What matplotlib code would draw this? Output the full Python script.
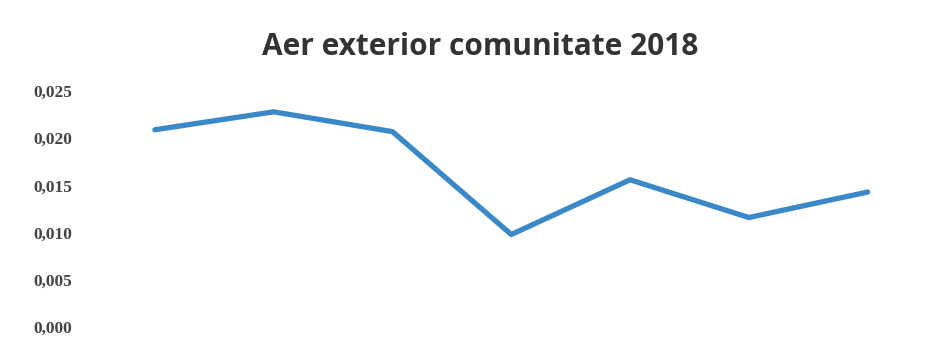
import matplotlib
matplotlib.use("Agg")
import matplotlib.pyplot as plt
from matplotlib.ticker import FuncFormatter

# Measured concentrations for each sampling point
categories = ["P1", "P2", "P3", "P4", "P5", "P6", "P7"]
values = [0.0209, 0.0228, 0.0207, 0.0098, 0.0156, 0.0116, 0.0143]
y_ticks = [0.000, 0.005, 0.010, 0.015, 0.020, 0.025]
title = "Aer exterior comunitate 2018"

fig = plt.figure(figsize=(9.45, 3.47), dpi=100)
ax = fig.add_axes([0.101, 0.0576, 0.880, 0.680])

x = list(range(len(categories)))
ax.plot(x, values, color="#3a88c7", linewidth=3.8, solid_capstyle="round",
        solid_joinstyle="round")

ax.set_xlim(-0.5, len(categories) - 0.5)
ax.set_ylim(0, 0.025)
ax.set_yticks(y_ticks)
ax.yaxis.set_major_formatter(FuncFormatter(lambda v, _: f"{v:.3f}".replace(".", ",")))
ax.set_xticks([])

for s in ax.spines.values():
    s.set_visible(False)
ax.tick_params(axis="y", length=0, pad=17, labelsize=12.5, labelcolor="#444444")
for lbl in ax.get_yticklabels():
    lbl.set_fontfamily("Liberation Serif")
    lbl.set_fontweight("bold")

fig.text(480 / 945, 0.865, title, ha="center", va="center",
         fontsize=21.5, fontweight="bold", color="#333333", family="Open Sans")

fig.savefig("out.png", dpi=100, facecolor="white")
